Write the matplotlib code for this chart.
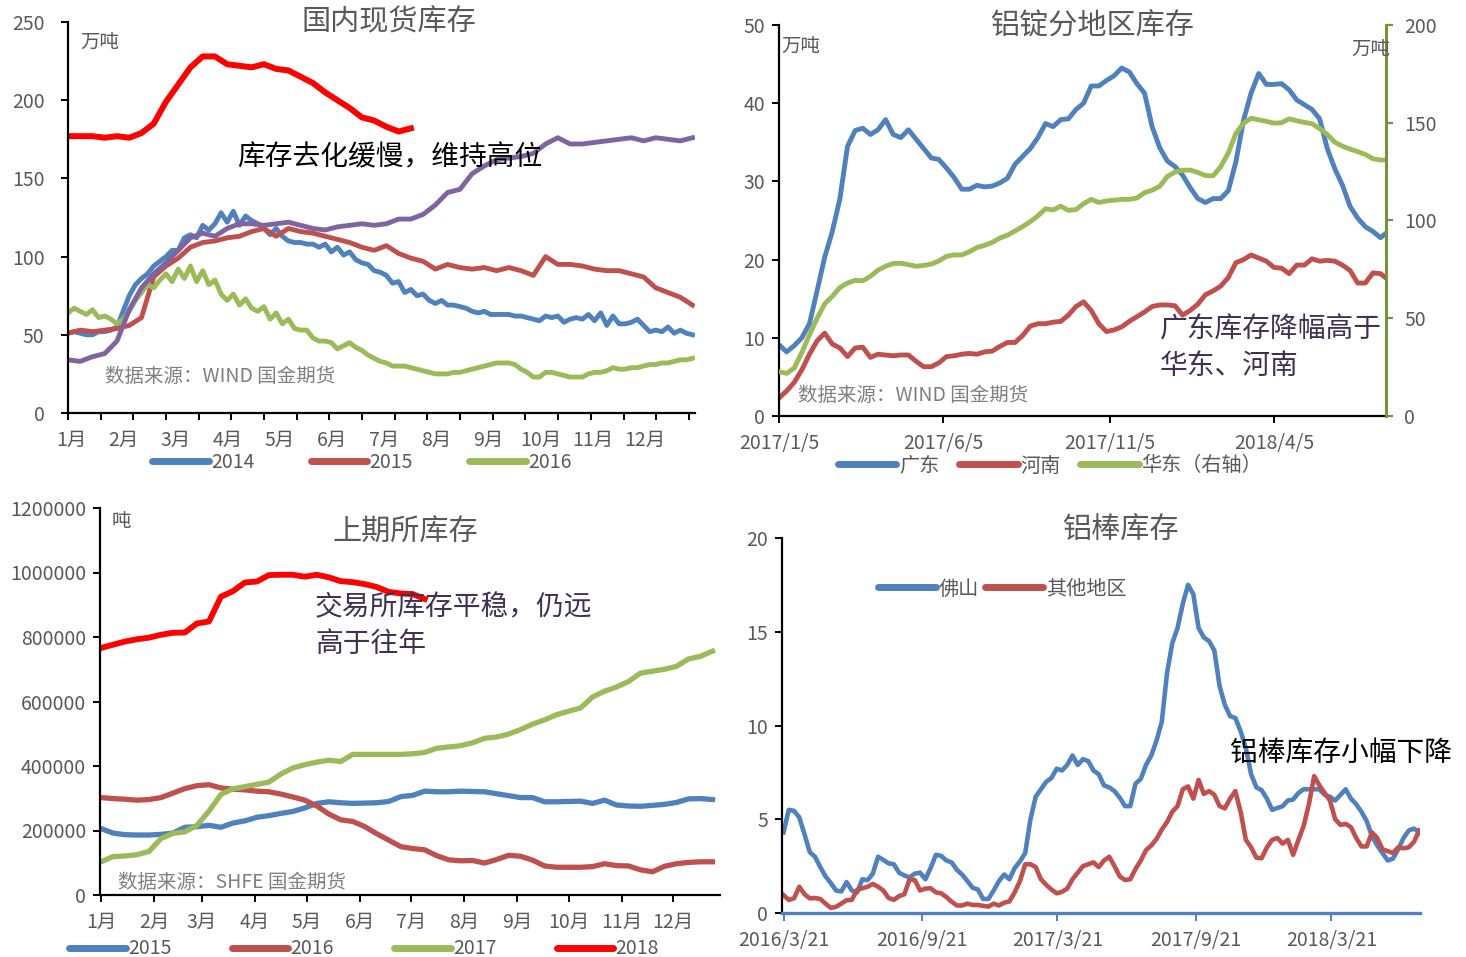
import numpy as np
import pandas as pd
import matplotlib
matplotlib.use('Agg')
import matplotlib.pyplot as plt
from matplotlib.lines import Line2D

# ---------------- data ----------------
# panel 1: domestic spot stock (10k t), blue/green every half week, others weekly
blue14 = [51, 52, 51, 50, 50, 52, 52, 53, 55, 65,
          75, 82, 86, 89, 94, 97, 100, 104, 104, 112,
          114, 112, 120, 117, 121, 128, 122, 129, 120, 126,
          123, 121, 118, 114, 118, 113, 110, 109, 109, 108,
          108, 106, 108, 103, 106, 101, 103, 98, 96, 95,
          91, 90, 88, 83, 84, 77, 79, 75, 76, 72,
          70, 72, 69, 69, 68, 67, 65, 64, 65, 63,
          63, 63, 63, 62, 62, 61, 60, 59, 62, 61,
          62, 58, 60, 61, 60, 63, 59, 64, 56, 62,
          57, 57, 58, 60, 56, 52, 53, 52, 55, 51,
          53, 51, 50]
green16 = [64, 67, 65, 63, 66, 61, 62, 60, 57, 60,
           65, 72, 77, 82, 80, 85, 89, 84, 92, 86,
           94, 84, 91, 82, 85, 76, 72, 76, 69, 73,
           67, 65, 68, 60, 64, 57, 60, 54, 53, 53,
           48, 46, 46, 45, 41, 43, 45, 42, 40, 37,
           35, 33, 32, 30, 30, 30, 29, 28, 27, 26,
           25, 25, 25, 26, 26, 27, 28, 29, 30, 31,
           32, 32, 32, 31, 28, 26, 23, 23, 26, 26,
           25, 24, 23, 23, 23, 25, 26, 26, 27, 29,
           28, 28, 29, 29, 30, 31, 31, 32, 32, 33,
           34, 34, 35]
red15 = [51, 53, 52, 53, 54, 56, 61, 87, 94, 99, 106, 109, 110, 112, 113, 116, 118,
         113, 118, 116, 115, 113, 111, 109, 106, 104, 107, 102, 99, 97, 92, 95, 93, 92,
         93, 91, 93, 91, 88, 100, 95, 95, 94, 92, 91, 91, 89, 87, 80, 77, 74, 69]
purple17 = [34, 33, 36, 38, 46, 66, 80, 89, 96, 104, 112, 115, 113, 118, 121, 121, 120,
            121, 122, 120, 118, 117, 119, 120, 121, 120, 121, 124, 124, 127, 133, 141,
            143, 153, 158, 162, 163, 164, 166, 172, 176, 172, 172, 173, 174, 175, 176,
            174, 176, 175, 174, 176]
red18 = [177, 177, 177, 176, 177, 176, 179, 185, 199, 210, 221, 228, 228, 223, 222,
         221, 223, 220, 219, 215, 211, 205, 200, 195, 189, 187, 183, 180, 182]
month_labels = ['1月', '2月', '3月', '4月', '5月', '6月', '7月', '8月', '9月', '10月', '11月', '12月']

# panel 2: ingot stock by region, weekly from 2017/1/5 (10k t)
guangdong = [9.1, 8.2, 9.0, 10.0, 11.8, 16.0, 20.3, 23.6, 27.8, 34.5,
             36.5, 36.8, 36.0, 36.6, 37.9, 36.0, 35.6, 36.6, 35.4, 34.2,
             33.0, 32.8, 31.7, 30.5, 29.0, 29.0, 29.5, 29.3, 29.4, 29.8,
             30.4, 32.2, 33.2, 34.2, 35.6, 37.4, 37.0, 37.9, 38.0, 39.2,
             40.0, 42.2, 42.2, 42.9, 43.5, 44.5, 44.0, 42.5, 41.3, 37.0,
             34.3, 32.6, 31.9, 30.8, 29.2, 27.8, 27.3, 27.8, 27.8, 28.8,
             32.5, 37.8, 41.3, 43.8, 42.4, 42.4, 42.5, 41.7, 40.4, 39.8,
             39.2, 38.0, 34.2, 31.6, 29.5, 26.8, 25.3, 24.2, 23.6, 22.8, 23.6]
henan = [2.3, 3.2, 4.3, 5.9, 7.9, 9.6, 10.6, 9.2, 8.7, 7.6,
         8.7, 8.8, 7.5, 7.9, 7.8, 7.7, 7.8, 7.8, 7.0, 6.3,
         6.3, 6.8, 7.6, 7.7, 7.9, 8.0, 7.9, 8.2, 8.3, 8.9,
         9.4, 9.4, 10.3, 11.5, 11.8, 11.8, 12.0, 12.1, 12.9, 14.0,
         14.6, 13.5, 11.8, 10.8, 11.0, 11.4, 12.1, 12.7, 13.3, 14.0,
         14.2, 14.2, 14.1, 12.9, 13.5, 14.3, 15.5, 16.0, 16.6, 17.7,
         19.6, 20.0, 20.6, 20.2, 19.8, 19.0, 18.9, 18.2, 19.3, 19.3,
         20.1, 19.8, 19.9, 19.8, 19.3, 18.6, 17.0, 17.0, 18.3, 18.2, 17.4]
huadong = [22.7, 21.8, 24.5, 32.5, 41.5, 50.0, 57.4, 61.2, 65.7, 68.0,
           69.4, 69.2, 71.4, 74.6, 76.6, 78.0, 78.1, 77.4, 76.6, 77.0,
           77.7, 79.3, 81.7, 82.4, 82.4, 84.0, 86.2, 87.3, 88.8, 91.0,
           92.5, 94.6, 96.9, 99.4, 102.4, 106.0, 105.4, 107.3, 105.2, 105.6,
           108.6, 110.8, 109.2, 110.0, 110.4, 110.8, 110.8, 111.5, 114.2, 115.5,
           117.5, 122.5, 124.8, 125.7, 125.8, 124.6, 123.0, 122.8, 127.5, 134.5,
           144.5, 149.8, 152.3, 151.5, 150.7, 149.8, 150.0, 152.0, 151.0, 150.2,
           149.5, 147.0, 144.0, 140.0, 138.0, 136.5, 135.2, 133.8, 131.6, 130.9, 131.0]
p2_ticks = ['2017-01-05', '2017-06-05', '2017-11-05', '2018-04-05']
p2_labels = ['2017/1/5', '2017/6/5', '2017/11/5', '2018/4/5']

# panel 3: SHFE stock, weekly from 1 Jan (10k t)
shfe15 = [20.6, 19.2, 18.7, 18.6, 18.6, 18.8, 19.2, 21.0, 21.2, 21.6,
          21.0, 22.3, 23.0, 24.1, 24.6, 25.3, 25.9, 27.0, 28.4, 28.9,
          28.6, 28.4, 28.5, 28.6, 29.0, 30.5, 30.9,
          32.2, 32.0, 32.0, 32.2, 32.1, 32.0, 31.4, 30.8, 30.2, 30.2,
          28.9, 28.9, 29.0, 29.1, 28.4, 29.4, 27.9, 27.6, 27.5, 27.8,
          28.1, 28.7, 29.8, 29.9, 29.6]
shfe16 = [30.2, 29.9, 29.7, 29.4, 29.6, 30.2, 31.6, 33.0, 33.9, 34.2,
          33.2, 32.8, 32.6, 32.2, 32.0, 31.3, 30.4, 29.4, 27.6, 25.1,
          23.3, 22.8, 21.2, 19.0, 17.0, 15.0, 14.4,
          14.0, 12.2, 10.9, 10.6, 10.7, 9.9, 11.0, 12.3, 12.0, 10.8,
          9.0, 8.6, 8.6, 8.6, 8.8, 9.7, 9.1, 9.0, 7.8, 7.2,
          8.9, 9.7, 10.1, 10.3, 10.3]
shfe17 = [10.3, 11.9, 12.1, 12.5, 13.5, 17.5, 19.1, 19.6, 21.6, 26.0,
          31.2, 32.9, 33.6, 34.3, 35.0, 37.5, 39.4, 40.4, 41.2, 41.8,
          41.4, 43.6, 43.6, 43.6, 43.6, 43.6, 43.8,
          44.2, 45.5, 45.9, 46.3, 47.2, 48.6, 49.0, 49.9, 51.3, 53.0,
          54.3, 55.9, 57.0, 58.0, 61.4, 63.2, 64.5, 66.2, 68.8, 69.4,
          70.0, 70.9, 73.2, 74.0, 75.6]
shfe18 = [76.6, 77.6, 78.6, 79.3, 79.8, 80.7, 81.3, 81.4, 84.2, 84.8, 92.5, 94.2, 96.9,
          97.2, 99.2, 99.3, 99.3, 98.7, 99.3, 98.5, 97.3, 97.0, 96.4, 95.5, 94.0, 93.5,
          93.3, 91.8]
month_start_day = [0, 31, 59, 90, 120, 151, 181, 212, 243, 273, 304, 334]

# panel 4: aluminium rod stock, weekly from 2016/3/21 (10k t)
foshan = [4.3, 5.5, 5.45, 5.1, 4.2, 3.25, 3.0, 2.45, 1.95, 1.6,
          1.2, 1.15, 1.65, 1.2, 1.1, 1.8, 1.75, 2.1, 3.0, 2.83,
          2.65, 2.6, 2.15, 2.0, 1.9, 2.1, 2.15, 1.8, 2.4, 3.1,
          3.05, 2.8, 2.7, 2.3, 2.05, 1.7, 1.35, 1.25, 0.75, 0.75,
          1.2, 1.7, 2.05, 1.8, 2.4, 2.75, 3.2, 5.0, 6.2, 6.6,
          7.0, 7.2, 7.7, 7.6, 7.9, 8.4, 7.9, 8.2, 8.1, 7.6,
          7.4, 6.8, 6.7, 6.5, 6.15, 5.7, 5.7, 6.9, 7.15, 7.9,
          8.4, 9.2, 10.2, 12.8, 14.4, 15.2, 16.5, 17.5, 17.0, 15.2,
          14.7, 14.5, 14.0, 12.1, 11.1, 10.5, 10.4, 9.7, 8.8, 7.4,
          6.7, 6.55, 6.1, 5.5, 5.6, 5.7, 6.0, 6.05, 6.4, 6.6,
          6.6, 6.6, 6.6, 6.3, 6.2, 6.0, 6.3, 6.6, 6.1, 5.8,
          5.4, 4.9, 4.1, 3.6, 3.2, 2.8, 2.9, 3.4, 4.0, 4.4, 4.5, 4.3]
others = [0.95, 0.7, 0.78, 1.4, 1.0, 0.78, 0.8, 0.75, 0.5, 0.27,
          0.33, 0.5, 0.68, 0.7, 1.23, 1.32, 1.4, 1.55, 1.4, 1.2,
          0.8, 0.7, 0.9, 1.0, 1.8, 1.75, 1.2, 1.3, 1.32, 1.1,
          1.05, 0.85, 0.6, 0.4, 0.4, 0.5, 0.43, 0.43, 0.38, 0.34,
          0.5, 0.4, 0.55, 0.62, 1.1, 1.7, 2.6, 2.6, 2.45, 1.8,
          1.5, 1.25, 1.05, 1.13, 1.3, 1.8, 2.15, 2.5, 2.6, 2.7,
          2.45, 2.8, 3.0, 2.5, 1.95, 1.76, 1.8, 2.35, 2.8, 3.35,
          3.6, 3.95, 4.45, 4.85, 5.4, 5.7, 6.6, 6.75, 6.1, 7.1,
          6.35, 6.5, 6.3, 5.7, 5.58, 6.1, 6.5, 5.4, 3.9, 3.5,
          2.95, 2.92, 3.5, 3.9, 4.0, 3.7, 3.9, 3.1, 3.9, 4.65,
          5.8, 7.3, 6.8, 6.4, 6.0, 5.0, 4.7, 4.75, 4.58, 4.0,
          3.55, 3.55, 4.3, 4.0, 3.4, 3.3, 3.2, 3.5, 3.45, 3.5, 3.8, 4.4]
p4_ticks = ['2016-03-21', '2016-09-21', '2017-03-21', '2017-09-21', '2018-03-21']
p4_labels = ['2016/3/21', '2016/9/21', '2017/3/21', '2017/9/21', '2018/3/21']

# ---------------- style ----------------
plt.rcParams['font.family'] = ['Noto Sans CJK SC', 'DejaVu Sans']

W, H = 1466, 957
BLUE = '#4F81BD'
RED = '#C0504D'
GREEN = '#9BBB59'
PURPLE = '#8064A2'
BRIGHT = '#FF0000'
OLIVE = '#77933C'
GRAY = '#595959'
SRC = '#7F7F7F'
NOTE = '#403152'

fig = plt.figure(figsize=(W / 100, H / 100), dpi=100)


def rect(l, t, r, b):
    return [l / W, 1 - b / H, (r - l) / W, (b - t) / H]


def ftext(x, y, s, **kw):
    kw.setdefault('va', 'center')
    fig.text(x / W, 1 - y / H, s, **kw)


def base_style(ax):
    for s in ['top', 'right']:
        ax.spines[s].set_visible(False)
    for s in ['left', 'bottom']:
        ax.spines[s].set_linewidth(1.6)
        ax.spines[s].set_color('black')
    ax.tick_params(direction='out', length=5, width=1.4, colors='black',
                   labelcolor=GRAY, labelsize=14)


def leg(handles, labels, cx, cy, ncol, spacing, size=14.5):
    fig.legend(handles, labels, loc='center', bbox_to_anchor=(cx / W, 1 - cy / H),
               ncol=ncol, frameon=False, handlelength=2.9, handletextpad=0.12,
               columnspacing=spacing, fontsize=size, labelcolor=GRAY,
               borderpad=0.1, borderaxespad=0.1)


def hline(c):
    return Line2D([0], [0], color=c, lw=5, solid_capstyle='round')


# ---------------- panel 1 ----------------
ax1 = fig.add_axes(rect(68, 22, 695, 413))
base_style(ax1)
ax1.plot(np.arange(len(blue14)) / 2, blue14, color=BLUE, lw=3.5)
ax1.plot(np.arange(len(red15)), red15, color=RED, lw=3.5)
ax1.plot(np.arange(len(green16)) / 2, green16, color=GREEN, lw=3.5)
ax1.plot(np.arange(len(purple17)), purple17, color=PURPLE, lw=3.5)
ax1.plot(np.arange(len(red18)), red18, color=BRIGHT, lw=4.3)
ax1.set_xlim(0, 51.2)
ax1.set_ylim(0, 250)
ax1.set_yticks(np.arange(0, 251, 50))
ax1.tick_params(axis='y', pad=12)
ax1.set_xticks(np.linspace(0, 50.7, 20))
ax1.set_xticklabels([])
ax1.set_xticks(0.24 + 4.26 * np.arange(12), minor=True)
ax1.set_xticklabels(month_labels, minor=True)
ax1.tick_params(axis='x', which='minor', length=0, pad=12, labelsize=14, labelcolor=GRAY)
ftext(80, 42, '万吨', fontsize=14, color=GRAY)
ftext(389, 22, '国内现货库存', fontsize=21, color=GRAY, ha='center')
ftext(237, 157, '库存去化缓慢，维持高位', fontsize=20, color='black')
ftext(105, 376, '数据来源：WIND 国金期货', fontsize=14, color=SRC)
leg([hline(BLUE), hline(RED), hline(GREEN)], ['2014', '2015', '2016'], 362, 462, 3, 2.9,
    size=14)

# ---------------- panel 2 ----------------
start2 = pd.Timestamp('2017-01-05')
d2 = start2 + pd.to_timedelta(7 * np.arange(len(guangdong)), unit='D')
ax2 = fig.add_axes(rect(779, 25, 1386, 416))
base_style(ax2)
ax2.plot(d2, guangdong, color=BLUE, lw=3.5)
ax2.plot(d2, henan, color=RED, lw=3.5)
ax2.set_ylim(0, 50)
ax2.set_yticks(np.arange(0, 51, 10))
ax2.set_xlim(start2, start2 + pd.Timedelta(days=558))
ax2.set_xticks(pd.to_datetime(p2_ticks))
ax2.set_xticklabels(p2_labels)
ax2.tick_params(axis='x', pad=7)
ax2.tick_params(axis='y', pad=5)
ax2r = ax2.twinx()
ax2r.plot(d2, huadong, color=GREEN, lw=3.5)
ax2r.set_ylim(0, 200)
ax2r.set_yticks(np.arange(0, 201, 50))
for s in ['top', 'left', 'bottom']:
    ax2r.spines[s].set_visible(False)
ax2r.spines['right'].set_color(OLIVE)
ax2r.spines['right'].set_linewidth(2.2)
ax2r.tick_params(direction='out', length=5, width=1.6, colors=OLIVE,
                 labelcolor=GRAY, labelsize=14, pad=8)
ax2r.set_xlim(start2, start2 + pd.Timedelta(days=558))
ftext(781, 46, '万吨', fontsize=14, color=GRAY)
ftext(1390, 49, '万吨', fontsize=14, color=GRAY, ha='right')
ftext(1092, 27, '铝锭分地区库存', fontsize=21, color=GRAY, ha='center')
ftext(1160, 314, '广东库存降幅高于\n华东、河南', fontsize=20, color=NOTE, va='top',
      linespacing=1.3)
ftext(798, 396, '数据来源：WIND 国金期货', fontsize=14, color=SRC)
leg([hline(BLUE), hline(RED), hline(GREEN)], ['广东', '河南', '华东（右轴）'],
    1050, 466, 3, 1.0)

# ---------------- panel 3 ----------------
ax3 = fig.add_axes(rect(100, 508, 720, 895))
base_style(ax3)
for vals, c, w in [(shfe15, BLUE, 3.8), (shfe16, RED, 3.8), (shfe17, GREEN, 3.8),
                   (shfe18, BRIGHT, 4.2)]:
    ax3.plot(7 * np.arange(len(vals)), np.array(vals) * 10000, color=c, lw=w)
ax3.set_xlim(-0.6, 361.4)
ax3.set_ylim(0, 1200000)
ax3.set_yticks(np.arange(0, 1200001, 200000))
ax3.set_yticklabels([str(v) for v in range(0, 1200001, 200000)])
ax3.set_xticks(month_start_day)
ax3.set_xticklabels(month_labels)
ax3.tick_params(axis='x', pad=7, labelsize=14)
ax3.tick_params(axis='y', pad=5)
ftext(112, 521, '吨', fontsize=14, color=GRAY)
ftext(405, 533, '上期所库存', fontsize=21, color=GRAY, ha='center')
ftext(315, 592, '交易所库存平稳，仍远\n高于往年', fontsize=20, color=NOTE, va='top',
      linespacing=1.3)
ftext(118, 882, '数据来源：SHFE 国金期货', fontsize=14, color=SRC)
leg([hline(BLUE), hline(RED), hline(GREEN), hline(BRIGHT)],
    ['2015', '2016', '2017', '2018'], 364, 949, 4, 3.1, size=14)

# ---------------- panel 4 ----------------
start4 = pd.Timestamp('2016-03-21')
d4 = start4 + pd.to_timedelta(7 * np.arange(len(foshan)), unit='D')
ax4 = fig.add_axes(rect(782, 538, 1420, 913))
base_style(ax4)
ax4.plot(d4, foshan, color=BLUE, lw=3.3)
ax4.plot(d4, others, color=RED, lw=3.3)
ax4.set_xlim(start4 - pd.Timedelta(days=2), start4 + pd.Timedelta(days=848))
ax4.set_ylim(0, 20)
ax4.set_yticks(np.arange(0, 21, 5))
ax4.set_xticks(pd.to_datetime(p4_ticks))
ax4.set_xticklabels(p4_labels)
ax4.spines['bottom'].set_color(BLUE)
ax4.spines['bottom'].set_linewidth(2.4)
ax4.tick_params(axis='x', colors=BLUE, labelcolor=GRAY, length=6, pad=6)
ax4.tick_params(axis='y', pad=5)
ftext(1120, 531, '铝棒库存', fontsize=21, color=GRAY, ha='center')
ftext(1230, 753, '铝棒库存小幅下降', fontsize=20, color='black')
leg([hline(BLUE), hline(RED)], ['佛山', '其他地区'], 1002, 589, 2, 0.3)

fig.savefig('out.png', dpi=100)
